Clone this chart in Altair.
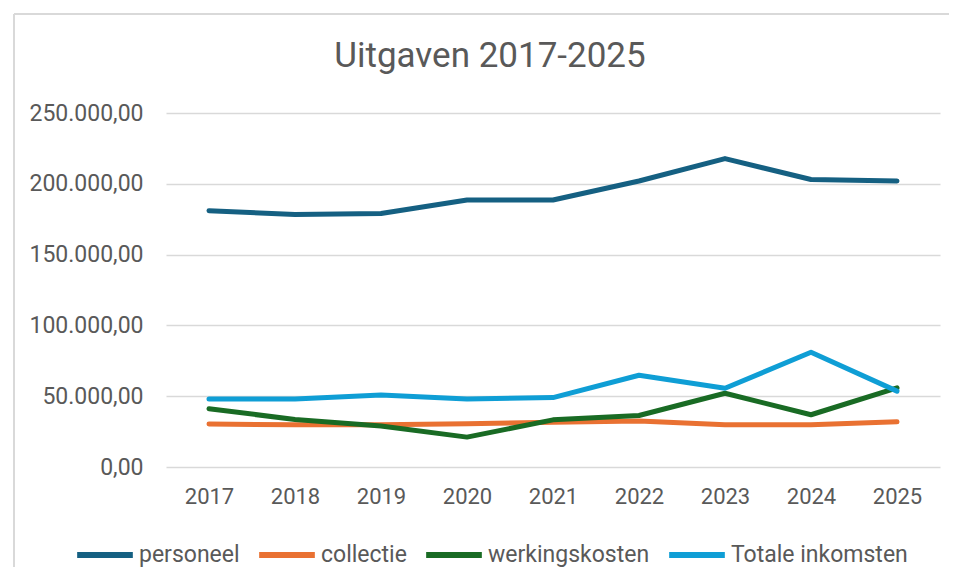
import altair as alt
import pandas as pd

years = ["2017", "2018", "2019", "2020", "2021", "2022", "2023", "2024", "2025"]
series_names = ["personeel", "collectie", "werkingskosten", "Totale inkomsten"]
personeel = [181000, 178300, 179000, 188500, 188600, 202000, 217800, 203000, 202000]
collectie = [30300, 29800, 29800, 30600, 31600, 32500, 29900, 29900, 31900]
werkingskosten = [41100, 33600, 28900, 21100, 33300, 36400, 52100, 36900, 55900]
totale_inkomsten = [48100, 48100, 50800, 48100, 49000, 64800, 55600, 81000, 53600]
colors = ["#156082", "#E97132", "#196B24", "#0F9ED5"]
title_text = "Uitgaven 2017-2025"

rows = []
for name, vals in zip(series_names, [personeel, collectie, werkingskosten, totale_inkomsten]):
    for y, v in zip(years, vals):
        rows.append({"jaar": y, "serie": name, "waarde": v})
df = pd.DataFrame(rows)

FONT = "Roboto, Liberation Sans, sans-serif"
GREY = "#595959"

lines = alt.Chart(df).mark_line(strokeWidth=5, strokeCap="round", strokeJoin="round").encode(
    x=alt.X("jaar:O", scale=alt.Scale(padding=0.5),
            axis=alt.Axis(title=None, labelAngle=0, ticks=False, domain=False,
                          labelFont=FONT, labelFontSize=22, labelColor=GREY,
                          labelPadding=19)),
    y=alt.Y("waarde:Q", scale=alt.Scale(domain=[0, 250000], nice=False),
            axis=alt.Axis(title=None, values=[0, 50000, 100000, 150000, 200000, 250000],
                          format=",.2f", ticks=False, domain=False,
                          labelFont=FONT, labelFontSize=23, labelColor=GREY,
                          labelPadding=23, gridColor="#d9d9d9", gridWidth=1.5)),
    color=alt.Color("serie:N",
                    scale=alt.Scale(domain=series_names, range=colors),
                    sort=series_names,
                    legend=alt.Legend(title=None, orient="none", direction="horizontal",
                                      legendX=-92, legendY=411, padding=0,
                                      symbolType="stroke", symbolSize=3100,
                                      symbolStrokeWidth=6, labelFont=FONT,
                                      labelFontSize=23, labelColor=GREY, labelLimit=400,
                                      labelOffset=3, columnPadding=7)),
)

frame = pd.DataFrame({"a": [0]})
border_top = alt.Chart(frame).mark_rule(stroke="#d9d9d9", strokeWidth=2).encode(
    x=alt.value(-152), x2=alt.value(800), y=alt.value(-99), y2=alt.value(-99),
)
border_left = alt.Chart(frame).mark_rule(stroke="#d9d9d9", strokeWidth=2).encode(
    x=alt.value(-152), x2=alt.value(-152), y=alt.value(-99), y2=alt.value(460),
)

title = alt.Chart(pd.DataFrame({"t": [title_text]})).mark_text(
    font=FONT, fontSize=35, color=GREY, align="center", baseline="alphabetic"
).encode(
    text="t:N", x=alt.value(324), y=alt.value(-46),
)

chart = alt.layer(border_top, border_left, title, lines).properties(
    width=774, height=354,
    padding={"left": 158, "top": 105, "right": 9, "bottom": 100},
    autosize=alt.AutoSizeParams(type="none"),
    background="white",
).configure(
    locale={"number": {"decimal": ",", "thousands": ".", "grouping": [3],
                       "currency": ["€", ""]}}
).configure_view(stroke=None)

chart.save("out.html", embed_options={"renderer": "svg", "actions": False})
